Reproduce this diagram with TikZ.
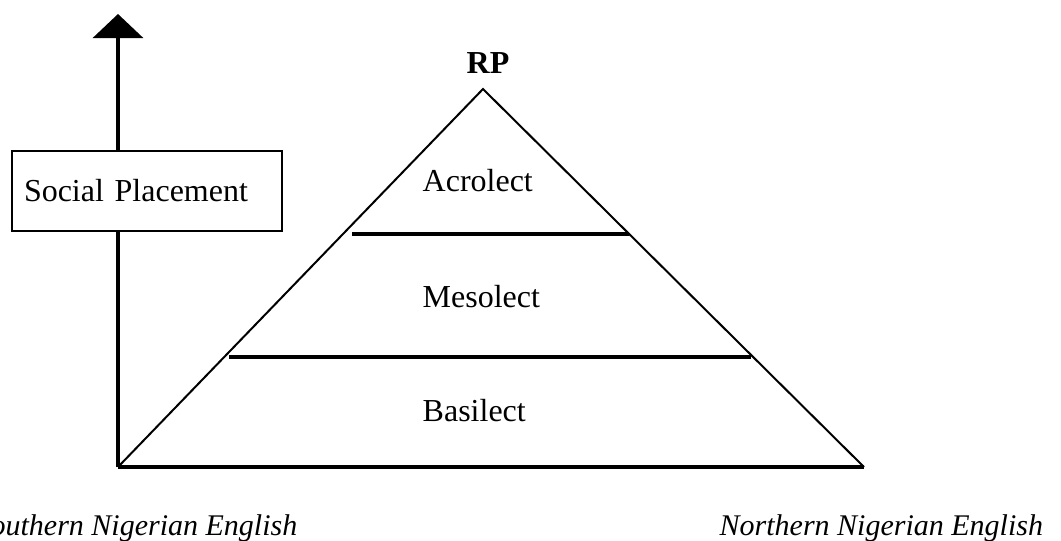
\documentclass[tikz,border=0pt]{standalone}
\usepackage{fontspec}
\setmainfont{Liberation Serif}
\usepackage{tikz}
\usetikzlibrary{
    positioning,
    arrows.meta
}

\begin{document}
\begin{tikzpicture}[x=0.75pt, y=-0.75pt, >=Triangle,
    font=\fontsize{24}{28}\selectfont]
                \useasboundingbox (0,0) rectangle (1061,540);
                % corner points
                \coordinate (O) at (118,467);
                \coordinate (T) at (118,14);
                \coordinate (A) at (483,89);
                \coordinate (R) at (864,467);
                
                % layer lines
                \coordinate (P1) at (352,234);
                \coordinate (Q1) at (629,234);
                \coordinate (P2) at (229,357);
                \coordinate (Q2) at (751,357);
                
                % vertical axis
                \draw[line width=2.5pt, -{Triangle[width=37.5pt, length=18pt]}] (O) -- (T);
                \node[draw, fill=white, line width=1.5pt, anchor=north west,
                      minimum width=202.5pt, minimum height=60pt, inner xsep=9pt,
                      text width=184.5pt, align=left] (social) at (11,150) {Social Placement};
                
                % triangle
                \draw[line width=1.5pt] (O) -- (A) -- (R);
                \draw[line width=2.5pt] (O) -- (R);
                \draw[line width=2.5pt] (P1) -- (Q1);
                \draw[line width=2.5pt] (P2) -- (Q2);
                
                % labels
                \node[anchor=base] (rp) at (488,73) {\textbf{RP}};
                \node[anchor=base west] (acro) at (418,191) {Acrolect};
                \node[anchor=base west] (meso) at (418,307) {Mesolect};
                \node[anchor=base west] (basi) at (418,421) {Basilect};
                \node[anchor=base east, font=\fontsize{22.5}{26}\selectfont\itshape] (south) at (302,535) {Southern Nigerian English};
                \node[anchor=base west, font=\fontsize{22.5}{26}\selectfont\itshape] (north) at (715,535) {Northern Nigerian English};
            \end{tikzpicture}
\end{document}
